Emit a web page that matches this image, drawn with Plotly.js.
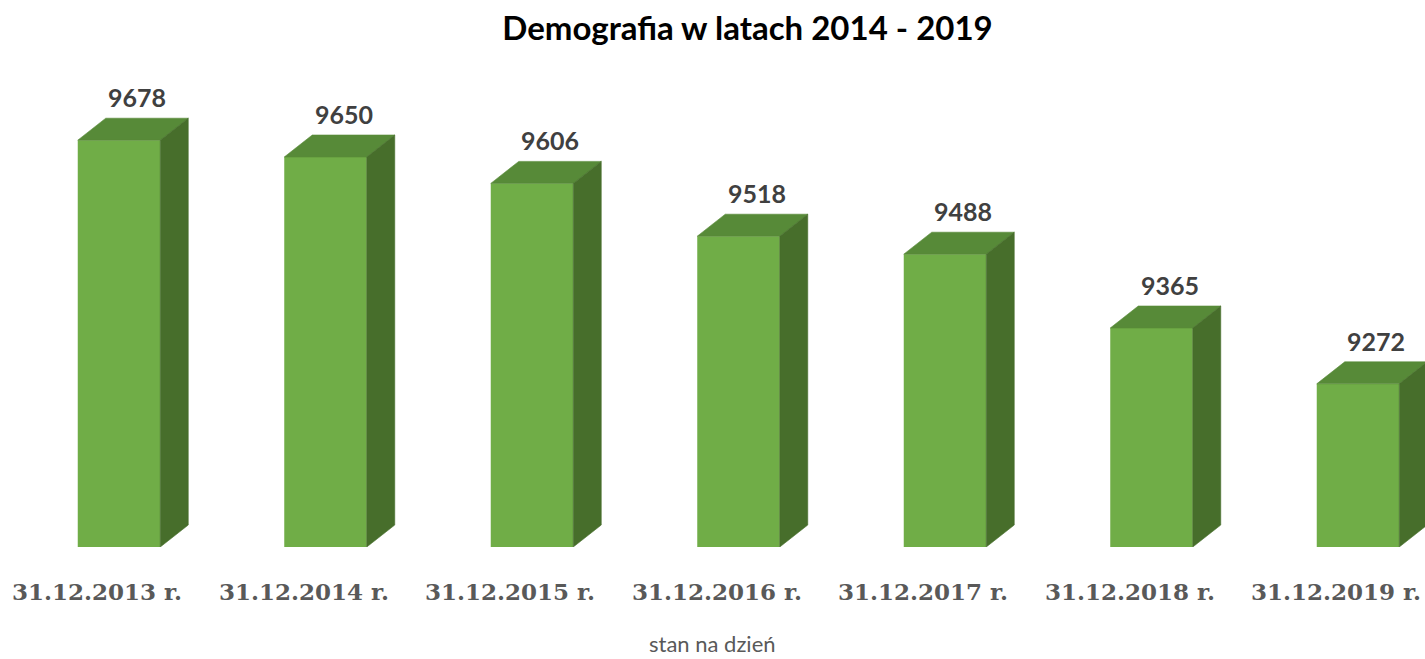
<!DOCTYPE html>
<html>
<head>
<meta charset="utf-8">
<script src="https://cdn.plot.ly/plotly-3.0.1.min.js"></script>
<style>html,body{margin:0;padding:0;background:#fff;}#chart{width:1425px;height:659px;}</style>
</head>
<body>
<div id="chart"></div>
<script>
// ---- data ----
var categories = ["31.12.2013 r.", "31.12.2014 r.", "31.12.2015 r.", "31.12.2016 r.", "31.12.2017 r.", "31.12.2018 r.", "31.12.2019 r."];
var population = [9678, 9650, 9606, 9518, 9488, 9365, 9272];
var chartTitle = "Demografia w latach 2014 - 2019";
var xAxisTitle = "stan na dzień";

// ---- geometry / style ----
var W = 1425, H = 659;
var M = {l: 0, r: 0, t: 60, b: 112};
var plotW = W - M.l - M.r, plotH = H - M.t - M.b;
var pxPerCat = 206.5;          // px between bar centres
var pxPerUnit = 0.6;           // px per person
var yBase = 9000;
var firstCentrePx = 119;
var xr0 = -firstCentrePx / pxPerCat;
var xRange = [xr0, xr0 + plotW / pxPerCat];
var yRange = [yBase, yBase + plotH / pxPerUnit];
var barW = 82.5 / pxPerCat;
var depthX = 28 / pxPerCat;
var depthY = 22 / pxPerUnit;

var FRONT = '#70AD47', TOP = '#578A38', SIDE = '#476E2B';

var xs = categories.map(function (c, i) { return i; });
var traces = [];
traces.push({
  type: 'bar', x: xs, y: population.map(function (v) { return v - yBase; }), base: yBase,
  width: barW, marker: {color: FRONT, line: {width: 0}}, hoverinfo: 'skip', showlegend: false
});
xs.forEach(function (x, i) {
  var v = population[i];
  var L = x - barW / 2, R = x + barW / 2;
  traces.push({
    type: 'scatter', mode: 'lines', fill: 'toself', fillcolor: TOP,
    line: {color: TOP, width: 0.6}, hoverinfo: 'skip', showlegend: false,
    x: [L, R, R + depthX, L + depthX, L], y: [v, v, v + depthY, v + depthY, v]
  });
  traces.push({
    type: 'scatter', mode: 'lines', fill: 'toself', fillcolor: SIDE,
    line: {color: SIDE, width: 0.6}, hoverinfo: 'skip', showlegend: false,
    x: [R, R + depthX, R + depthX, R, R], y: [yBase, yBase + depthY, v + depthY, v, yBase]
  });
});

var annotations = [];
xs.forEach(function (x, i) {
  annotations.push({
    xref: 'x', yref: 'y', x: x + 18 / pxPerCat, y: population[i], yshift: 43,
    text: String(population[i]), showarrow: false, xanchor: 'center', yanchor: 'middle',
    font: {family: 'Lato, Carlito, sans-serif', size: 25, weight: 700, color: '#404040'}
  });
  annotations.push({
    xref: 'x', yref: 'paper', x: x - 22 / pxPerCat, y: 0, yshift: -44.5,
    text: categories[i], showarrow: false, xanchor: 'center', yanchor: 'middle',
    font: {family: 'DejaVu Serif, serif', size: 23, weight: 700, color: '#595959'}
  });
});
annotations.push({
  xref: 'paper', yref: 'paper', x: 0.5, y: 0, yshift: -96,
  text: xAxisTitle, showarrow: false, xanchor: 'center', yanchor: 'middle',
  font: {family: 'Lato, sans-serif', size: 22, color: '#595959'}
});

var layout = {
  width: W, height: H, margin: M, paper_bgcolor: '#fff', plot_bgcolor: '#fff',
  title: {text: chartTitle, x: 747.5 / W, xanchor: 'center', xref: 'paper',
          y: 1 - 28 / H, yref: 'container', yanchor: 'middle',
          font: {family: 'Lato, sans-serif', size: 33, weight: 700, color: '#000'}},
  xaxis: {range: xRange, visible: false, fixedrange: true},
  yaxis: {range: yRange, visible: false, fixedrange: true},
  showlegend: false, annotations: annotations, hovermode: false
};
Plotly.newPlot('chart', traces, layout, {displayModeBar: false, staticPlot: true});
</script>
</body>
</html>
